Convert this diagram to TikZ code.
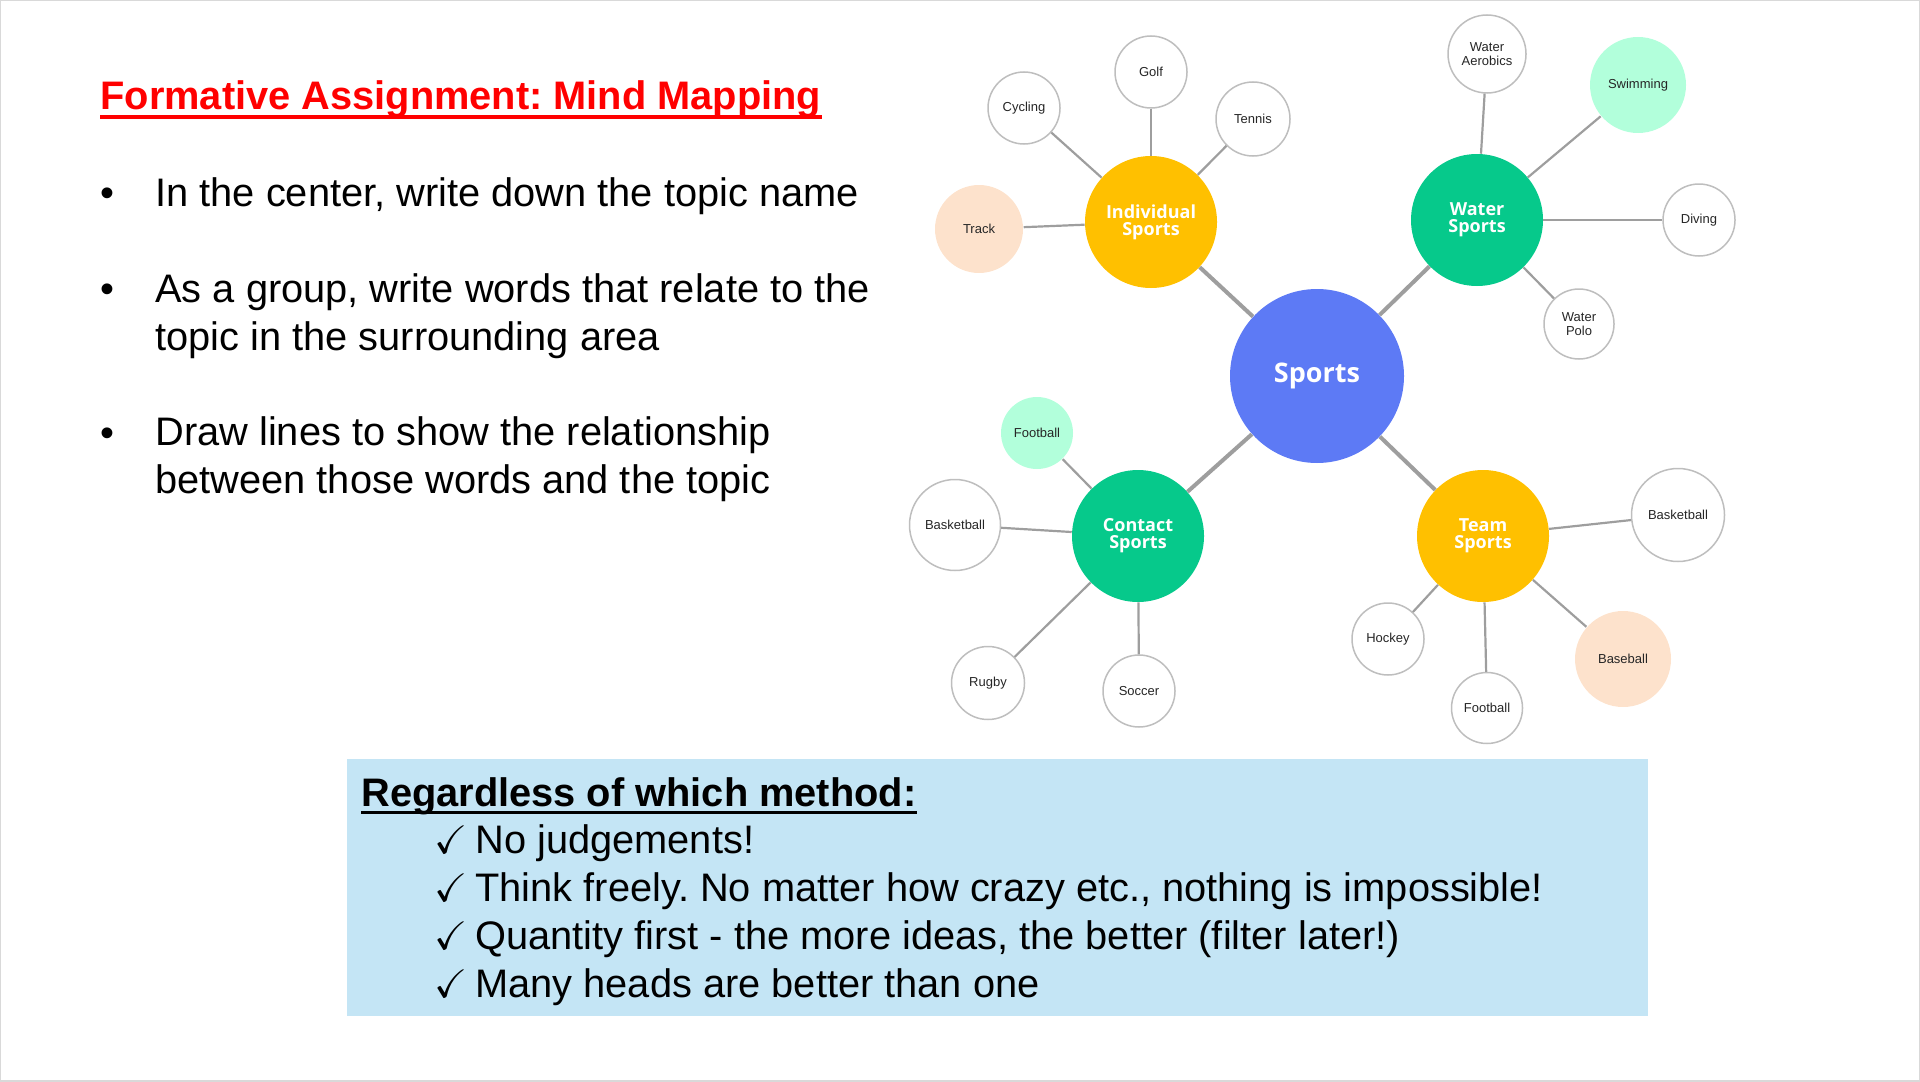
\documentclass[tikz,border=0pt]{standalone}
\usepackage{fontspec}
\usepackage{amssymb}
\setmainfont{Liberation Sans}
\newfontfamily\mapfont{Open Sans}
\usetikzlibrary{positioning}
\frenchspacing
\definecolor{hubblue}{RGB}{93,122,245}
\definecolor{branchgold}{RGB}{255,192,0}
\definecolor{branchgreen}{RGB}{6,201,139}
\definecolor{mintfill}{RGB}{178,255,219}
\definecolor{peachfill}{RGB}{253,226,204}
\definecolor{boxbg}{RGB}{196,229,245}
\definecolor{spokegray}{RGB}{158,158,158}
\definecolor{ringgray}{RGB}{190,190,190}
\definecolor{titlered}{RGB}{255,0,0}

\tikzset{
  hub/.style={circle, fill=hubblue, inner sep=0pt, minimum size=87pt, text=white,
    font=\mapfont\bfseries\fontsize{13.5}{15}\selectfont},
  branch/.style={circle, inner sep=0pt, minimum size=66pt, text=white, align=center,
    font=\mapfont\bfseries\fontsize{9}{8.6}\selectfont},
  leaf/.style={circle, draw=ringgray, fill=white, line width=0.75pt, inner sep=0pt,
    minimum size=36pt, align=center, text=black!85, font=\fontsize{6.5}{6.8}\selectfont},
  spoke/.style={draw=spokegray, line width=2pt},
  twig/.style={draw=spokegray, line width=1.1pt},
  bodytext/.style={anchor=base west, inner sep=0pt, align=left,
    font=\fontsize{19.9}{24}\selectfont},
  checkline/.style={anchor=base west, inner sep=0pt, font=\fontsize{19.9}{24}\selectfont}
}

\begin{document}
\begin{tikzpicture}[x=0.5pt, y=-0.5pt]
\useasboundingbox (0,0) rectangle (1920,1081);
\draw[gray!30, line width=1pt] (0,0) rectangle (1920,1081);

\node[bodytext, font=\bfseries\fontsize{19.9}{24}\selectfont, text=titlered] (title) at (100,110) {Formative Assignment: Mind Mapping};
\draw[titlered, line width=1.75pt] ([yshift=-3.5pt]title.base west) -- ([yshift=-3.5pt]title.base east);

\node[bodytext] (dot1) at (100,206) {\textbullet};
\node[bodytext] (item1) at (155,206) {In the center, write down the topic name};
\node[bodytext] (dot2) at (100,302) {\textbullet};
\node[bodytext] (item2) at (155,350) {As a group, write words that relate to the\\topic in the surrounding area};
\node[bodytext] (dot3) at (100,446) {\textbullet};
\node[bodytext] (item3) at (155,493) {Draw lines to show the relationship\\between those words and the topic};

\node[hub] (sports) at (1317,376) {Sports};
\node[branch, fill=branchgold]  (indiv)   at (1151,222) {Individual\\Sports};
\node[branch, fill=branchgreen] (water)   at (1477,220) {Water\\Sports};
\node[branch, fill=branchgreen] (contact) at (1138,536) {Contact\\Sports};
\node[branch, fill=branchgold]  (team)    at (1483,536) {Team\\Sports};

\node[leaf] (golf)    at (1151,72)  {Golf};
\node[leaf] (cycling) at (1024,108) {Cycling};
\node[leaf, minimum size=37pt] (tennis) at (1253,119) {Tennis};
\node[leaf, draw=none, fill=peachfill, minimum size=44pt] (track) at (979,229) {Track};

\node[leaf, minimum size=39pt] (aerobics) at (1487,54) {Water\\Aerobics};
\node[leaf, draw=none, fill=mintfill, minimum size=48pt] (swimming) at (1638,85) {Swimming};
\node[leaf] (diving) at (1699,220) {Diving};
\node[leaf, minimum size=35pt] (polo) at (1579,324) {Water\\Polo};

\node[leaf, draw=none, fill=mintfill] (cfootball) at (1037,433) {Football};
\node[leaf, minimum size=45.5pt] (cbasket) at (955,525) {Basketball};
\node[leaf, minimum size=36.5pt] (rugby) at (988,683) {Rugby};
\node[leaf] (soccer) at (1139,691) {Soccer};

\node[leaf, minimum size=46.5pt] (tbasket) at (1678,515) {Basketball};
\node[leaf, draw=none, fill=peachfill, minimum size=48pt] (baseball) at (1623,659) {Baseball};
\node[leaf, minimum size=35.5pt] (tfootball) at (1487,708) {Football};
\node[leaf] (hockey) at (1388,639) {Hockey};

\foreach \b in {indiv, water, contact, team}
  \draw[spoke] (sports) -- (\b);
\foreach \a/\b in {indiv/golf, indiv/cycling, indiv/tennis, indiv/track,
                   water/aerobics, water/swimming, water/diving, water/polo,
                   contact/cfootball, contact/cbasket, contact/rugby, contact/soccer,
                   team/tbasket, team/baseball, team/tfootball, team/hockey}
  \draw[twig] (\a) -- (\b);

\fill[boxbg] (347,759) rectangle (1648,1016);
\node[checkline, font=\bfseries\fontsize{19.9}{24}\selectfont] (method) at (361,806) {Regardless of which method:};
\draw[black, line width=1.5pt] ([yshift=-3pt]method.base west) -- ([yshift=-3pt]method.base east);
\node[checkline] (rule1) at (434,853) {\makebox[20.5pt][l]{$\checkmark$}No judgements!};
\node[checkline] (rule2) at (434,901) {\makebox[20.5pt][l]{$\checkmark$}Think freely. No matter how crazy etc., nothing is impossible!};
\node[checkline] (rule3) at (434,949) {\makebox[20.5pt][l]{$\checkmark$}Quantity first - the more ideas, the better (filter later!)};
\node[checkline] (rule4) at (434,997) {\makebox[20.5pt][l]{$\checkmark$}Many heads are better than one};
\end{tikzpicture}
\end{document}
